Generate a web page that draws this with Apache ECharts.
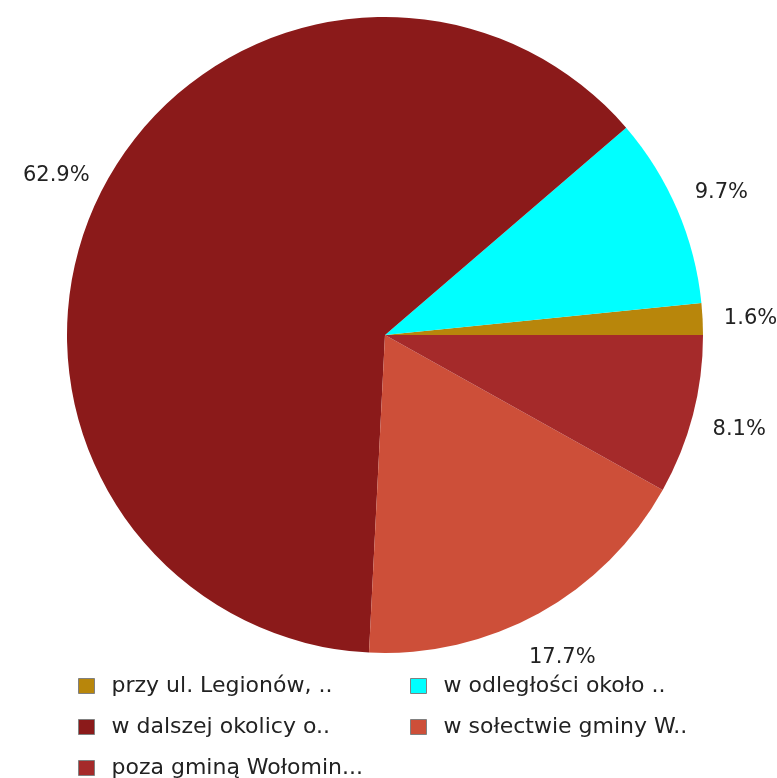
<!DOCTYPE html>
<html>
<head>
<meta charset="utf-8">
<script src="https://cdn.jsdelivr.net/npm/echarts@6/dist/echarts.min.js"></script>
<style>
  html, body { margin: 0; padding: 0; background: #fff; }
  #main { width: 777px; height: 778px; }
</style>
</head>
<body>
<div id="main"></div>
<script>
var categories = ['przy ul. Legionów, ..', 'w odległości około ..', 'w dalszej okolicy o..', 'w sołectwie gminy W..', 'poza gminą Wołomin...'];
var shares = [1.6, 9.7, 62.9, 17.7, 8.1];
var colors = ['#B8860B', '#00FFFF', '#8B1A1A', '#CD4F39', '#A52A2A'];

// legend slots: two columns, three rows
var legendPos = [[73, 670], [405, 670], [73, 711], [405, 711], [73, 752]];

var myChart = echarts.init(document.getElementById('main'));

var legends = categories.map(function (name, i) {
    return {
        left: legendPos[i][0],
        top: legendPos[i][1],
        data: [name],
        icon: 'rect',
        itemWidth: 16,
        itemHeight: 15,
        itemStyle: { borderColor: '#808080', borderWidth: 1 },
        textStyle: { fontFamily: 'DejaVu Sans', fontSize: 22, color: '#222', padding: [0, 0, 0, 12] },
        selectedMode: false
    };
});

var pieData = categories.map(function (name, i) {
    return { name: name, value: shares[i] };
});

var option = {
    animation: false,
    color: colors,
    legend: legends,
    series: [{
        // the slices
        type: 'pie',
        center: [385, 335],
        radius: 318,
        startAngle: 0,
        clockwise: false,
        itemStyle: { borderWidth: 0 },
        label: { show: false },
        labelLine: { show: false },
        emphasis: { disabled: true },
        data: pieData
    }, {
        // invisible ring, only used to put the percent labels around the pie
        type: 'pie',
        center: [385, 337],
        radius: [0, 726],
        startAngle: 0,
        clockwise: false,
        silent: true,
        legendHoverLink: false,
        itemStyle: { color: 'rgba(0,0,0,0)', borderWidth: 0 },
        label: {
            show: true,
            position: 'inside',
            formatter: '{c}%',
            fontFamily: 'DejaVu Sans',
            fontSize: 21,
            color: '#222'
        },
        labelLine: { show: false },
        emphasis: { disabled: true },
        z: 1,
        data: pieData
    }]
};
myChart.setOption(option);
</script>
</body>
</html>
